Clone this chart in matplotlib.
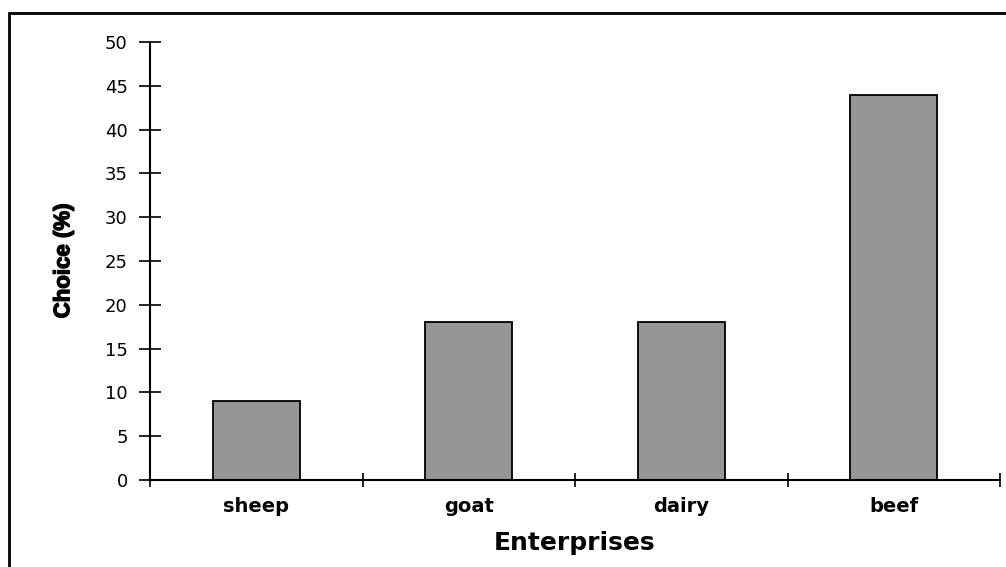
import matplotlib.pyplot as plt
import matplotlib.patheffects as pe
from matplotlib.patches import Rectangle

categories = ["sheep", "goat", "dairy", "beef"]
choice = [9, 18, 18, 44]
yticks = [0, 5, 10, 15, 20, 25, 30, 35, 40, 45, 50]

plt.rcParams["font.family"] = ["DejaVu Sans"]

fig = plt.figure(figsize=(10.06, 5.67), dpi=100)
ax = fig.add_axes([150 / 1006, 87 / 567, 850 / 1006, 438 / 567])

# outer frame (runs off the right and bottom edges)
fig.patches.append(Rectangle((9 / 1006, -0.1), 1.2, (567 - 13) / 567 + 0.1,
                             transform=fig.transFigure, fill=False,
                             edgecolor="black", linewidth=2))

x = range(len(categories))
ax.bar(x, choice, width=0.41, color="#969696", edgecolor="black", linewidth=1.3)

ax.set_xlim(-0.5, 3.5)
ax.set_ylim(0, 50)
ax.set_yticks(yticks)
ax.tick_params(axis="y", direction="inout", length=16, width=1.2, labelsize=13, pad=8)

# category labels between boundary ticks
ax.set_xticks([-0.5, 0.5, 1.5, 2.5, 3.5])
ax.set_xticklabels([])
ax.tick_params(axis="x", direction="inout", length=10, width=1.2)
for i, c in enumerate(categories):
    ax.text(i, -3.0, c, ha="center", va="center", fontsize=14,
            fontweight="bold", transform=ax.transData)

for s in ["top", "right"]:
    ax.spines[s].set_visible(False)
ax.spines["left"].set_linewidth(1.5)
ax.spines["bottom"].set_linewidth(1.5)

ax.set_xlabel("Enterprises", fontsize=18, fontweight="bold", labelpad=28)
yl = ax.set_ylabel("Choice (%)", fontsize=16, fontweight="bold",
                   family="Liberation Sans", labelpad=22)
yl.set_path_effects([pe.withStroke(linewidth=1.0, foreground="black")])

fig.savefig("out.png", dpi=100)
